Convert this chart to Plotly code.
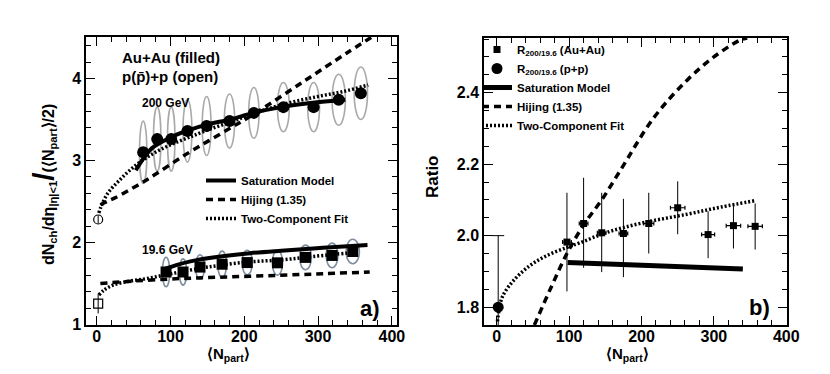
import plotly.graph_objects as go

# ---------------- Panel a) data ----------------
au200_x = [63, 82, 101, 123, 149, 180, 213, 253, 294, 328, 358]
au200_y = [3.10, 3.26, 3.26, 3.36, 3.42, 3.48, 3.58, 3.65, 3.65, 3.74, 3.82]
au200_ex = [5, 5, 5, 6, 6, 7, 7, 8, 8, 9, 9]
au200_ey = [0.38, 0.39, 0.39, 0.38, 0.36, 0.33, 0.31, 0.30, 0.30, 0.31, 0.32]

au19_x = [94, 117, 140, 170, 204, 245, 283, 319, 347]
au19_y = [1.64, 1.64, 1.70, 1.735, 1.755, 1.752, 1.818, 1.842, 1.89]
au19_ex = [5, 5, 6, 6, 7, 7, 8, 8, 9]
au19_ey = [0.18, 0.16, 0.15, 0.16, 0.15, 0.15, 0.15, 0.15, 0.15]

pp200_x = [2]
pp200_y = [2.28]
pp200_err = [0.05]
pp19_x = [2]
pp19_y = [1.255]
pp19_err = [0.12]

sat200_x = [53, 63, 75, 100, 122, 150, 181, 212, 250, 290, 337]
sat200_y = [2.88, 3.02, 3.15, 3.28, 3.36, 3.44, 3.50, 3.58, 3.65, 3.70, 3.74]
hij200_x = [5, 14, 24, 67, 122, 167, 212, 280, 339, 372]
hij200_y = [2.46, 2.50, 2.54, 2.76, 3.08, 3.32, 3.56, 3.96, 4.31, 4.50]
two200_x = [3, 6, 15, 31, 50, 72, 95, 122, 150, 185, 222, 260, 300, 334, 368]
two200_y = [2.36, 2.44, 2.60, 2.76, 2.92, 3.06, 3.17, 3.27, 3.37, 3.48, 3.60, 3.70, 3.78, 3.84, 3.92]

sat19_x = [93, 110, 127, 160, 208, 250, 298, 340, 367]
sat19_y = [1.68, 1.73, 1.77, 1.82, 1.87, 1.90, 1.93, 1.955, 1.97]
hij19_x = [5, 50, 113, 180, 249, 310, 370]
hij19_y = [1.50, 1.53, 1.56, 1.58, 1.60, 1.62, 1.64]
two19_x = [3, 10, 22, 45, 68, 90, 113, 150, 203, 253, 294, 339, 352]
two19_y = [1.36, 1.42, 1.48, 1.53, 1.56, 1.60, 1.64, 1.70, 1.76, 1.79, 1.83, 1.87, 1.88]

# ---------------- Panel b) data ----------------
ratio_x = [97, 120, 145, 175, 210, 250, 292, 327, 357]
ratio_y = [1.982, 2.034, 2.008, 2.006, 2.034, 2.078, 2.003, 2.028, 2.026]
ratio_top = [2.120, 2.162, 2.120, 2.103, 2.120, 2.152, 2.068, 2.090, 2.090]
ratio_bot = [1.844, 1.910, 1.898, 1.884, 1.950, 2.004, 1.937, 1.964, 1.961]
ratio_ex = [6, 6, 6, 6, 7, 10, 9, 10, 10]

ppr_x = [2]
ppr_y = [1.80]
ppr_err = [0.20]

satb_x = [98, 340]
satb_y = [1.925, 1.907]
hijb_x = [52, 75, 97, 120, 145, 170, 217, 263, 300, 334, 346]
hijb_y = [1.75, 1.855, 1.95, 2.03, 2.10, 2.18, 2.33, 2.435, 2.50, 2.545, 2.553]
twob_x = [1, 3, 8, 23, 45, 69, 97, 115, 152, 200, 263, 310, 357]
twob_y = [1.76, 1.79, 1.83, 1.874, 1.915, 1.944, 1.967, 1.98, 2.009, 2.035, 2.06, 2.08, 2.098]

FONT = "Liberation Sans, Arial, Helvetica, sans-serif"
# page body has an 8px margin: the figure is sized so the page fits the 830x374 window
OFF = 8
W, H = 830 - 2 * OFF, 374 - 2 * OFF


def fx(px):
    return (px - OFF) / W


def fy(py):
    return 1 - (py - OFF) / H


fig = go.Figure()

LW = 3.5
DASH = "7px,5px"
DOT = "2px,2px"

# panel a lines
fig.add_trace(go.Scatter(x=sat200_x, y=sat200_y, mode="lines", line=dict(color="black", width=4, shape="spline"),
                         name="Saturation Model", legend="legend", xaxis="x", yaxis="y"))
fig.add_trace(go.Scatter(x=hij200_x, y=hij200_y, mode="lines", line=dict(color="black", width=LW, dash=DASH, shape="spline"),
                         name="Hijing (1.35)", legend="legend", xaxis="x", yaxis="y"))
fig.add_trace(go.Scatter(x=two200_x, y=two200_y, mode="lines", line=dict(color="black", width=LW, dash=DOT, shape="spline"),
                         name="Two-Component Fit", legend="legend", xaxis="x", yaxis="y"))
fig.add_trace(go.Scatter(x=sat19_x, y=sat19_y, mode="lines", line=dict(color="black", width=4, shape="spline"),
                         showlegend=False, xaxis="x", yaxis="y"))
fig.add_trace(go.Scatter(x=hij19_x, y=hij19_y, mode="lines", line=dict(color="black", width=LW, dash=DASH, shape="spline"),
                         showlegend=False, xaxis="x", yaxis="y"))
fig.add_trace(go.Scatter(x=two19_x, y=two19_y, mode="lines", line=dict(color="black", width=LW, dash=DOT, shape="spline"),
                         showlegend=False, xaxis="x", yaxis="y"))

# panel a markers
fig.add_trace(go.Scatter(x=au200_x, y=au200_y, mode="markers", marker=dict(symbol="circle", size=12, color="black"),
                         showlegend=False, xaxis="x", yaxis="y"))
fig.add_trace(go.Scatter(x=au19_x, y=au19_y, mode="markers", marker=dict(symbol="square", size=11, color="black"),
                         showlegend=False, xaxis="x", yaxis="y"))
fig.add_trace(go.Scatter(x=pp200_x, y=pp200_y, mode="markers",
                         marker=dict(symbol="circle-open", size=9, color="black", line=dict(width=1.2)),
                         error_y=dict(type="data", array=pp200_err, color="black", thickness=1, width=0),
                         showlegend=False, xaxis="x", yaxis="y"))
fig.add_trace(go.Scatter(x=pp19_x, y=pp19_y, mode="markers",
                         marker=dict(symbol="square-open", size=9, color="black", line=dict(width=1.2)),
                         error_y=dict(type="data", array=pp19_err, color="black", thickness=1, width=0),
                         showlegend=False, xaxis="x", yaxis="y"))

# panel b
fig.add_trace(go.Scatter(x=ratio_x, y=ratio_y, mode="markers", marker=dict(symbol="square", size=7, color="black"),
                         error_y=dict(type="data", symmetric=False,
                                      array=[t - v for t, v in zip(ratio_top, ratio_y)],
                                      arrayminus=[v - b for b, v in zip(ratio_bot, ratio_y)],
                                      color="black", thickness=1, width=0),
                         error_x=dict(type="data", array=ratio_ex, color="black", thickness=1.2, width=2),
                         name="R<sub>200/19.6</sub> (Au+Au)", legend="legend2", xaxis="x2", yaxis="y2"))
fig.add_trace(go.Scatter(x=ppr_x, y=ppr_y, mode="markers", marker=dict(symbol="circle", size=11, color="black"),
                         error_y=dict(type="data", array=ppr_err, color="black", thickness=1, width=6),
                         name="R<sub>200/19.6</sub> (p+p)", legend="legend2", xaxis="x2", yaxis="y2"))
fig.add_trace(go.Scatter(x=satb_x, y=satb_y, mode="lines", line=dict(color="black", width=5),
                         name="Saturation Model", legend="legend2", xaxis="x2", yaxis="y2"))
fig.add_trace(go.Scatter(x=hijb_x, y=hijb_y, mode="lines", line=dict(color="black", width=LW, dash=DASH, shape="spline"),
                         name="Hijing (1.35)", legend="legend2", xaxis="x2", yaxis="y2"))
fig.add_trace(go.Scatter(x=twob_x, y=twob_y, mode="lines", line=dict(color="black", width=LW, dash=DOT, shape="spline"),
                         name="Two-Component Fit", legend="legend2", xaxis="x2", yaxis="y2"))

# ellipses (systematic error contours) as data-space shapes
shapes = []
for x, y, ex, ey in zip(au200_x, au200_y, au200_ex, au200_ey):
    shapes.append(dict(type="circle", xref="x", yref="y", x0=x - ex, x1=x + ex, y0=y - ey, y1=y + ey,
                       line=dict(color="#a9a9a9", width=1.6), layer="below"))
for x, y, ex, ey in zip(au19_x, au19_y, au19_ex, au19_ey):
    shapes.append(dict(type="circle", xref="x", yref="y", x0=x - ex, x1=x + ex, y0=y - ey, y1=y + ey,
                       line=dict(color="#7f8ea0", width=1.6), layer="below"))

tickfont = dict(family=FONT, size=16, color="black", weight="bold")
axis_common = dict(showline=True, linecolor="black", linewidth=1.5, mirror="ticks", ticks="inside",
                   ticklen=9, tickwidth=1.2, tickcolor="black", showgrid=False, zeroline=False,
                   tickfont=tickfont, automargin=False)
minor_common = dict(ticklen=5, ticks="inside", tickcolor="black", tickwidth=1, tick0=0)

fig.update_layout(
    template="none",
    width=W, height=H,
    margin=dict(l=0, r=0, t=0, b=0, pad=0, autoexpand=False),
    paper_bgcolor="white", plot_bgcolor="white",
    font=dict(family=FONT, color="black"),
    shapes=shapes,
    xaxis=dict(domain=[fx(86), fx(397)], range=[-14.5, 407], dtick=100, tick0=0, ticklabelstandoff=-4,
               minor=dict(dtick=20, **minor_common), anchor="y", **axis_common),
    yaxis=dict(domain=[fy(325), fy(37)], range=[0.994, 4.505], dtick=1, tick0=0,
               minor=dict(dtick=0.2, **minor_common), anchor="x", **axis_common),
    xaxis2=dict(domain=[fx(484), fx(787)], range=[-17.6, 401], dtick=100, tick0=0, ticklabelstandoff=-4,
                minor=dict(dtick=20, **minor_common), anchor="y2", **axis_common),
    yaxis2=dict(domain=[fy(325), fy(38)], range=[1.75, 2.553], dtick=0.2, tick0=0, tickformat=".1f",
                minor=dict(dtick=0.05, **minor_common), anchor="x2", **axis_common),
    legend=dict(x=fx(201), y=fy(166), xanchor="left", yanchor="top", bgcolor="rgba(0,0,0,0)",
                font=dict(family=FONT, size=11.5, color="black", weight="bold"), itemwidth=30, tracegroupgap=0),
    legend2=dict(x=fx(477), y=fy(35), xanchor="left", yanchor="top", bgcolor="rgba(0,0,0,0)",
                 font=dict(family=FONT, size=11.5, color="black", weight="bold"), itemwidth=30, tracegroupgap=0),
)

bold = dict(family=FONT, color="black", weight="bold")
ann = [
    dict(text="Au+Au (filled)", x=fx(120), y=fy(57), font=dict(size=15, **bold), xanchor="left"),
    dict(text="p(p\u0304)+p (open)", x=fx(120), y=fy(77), font=dict(size=15, **bold), xanchor="left"),
    dict(text="200 GeV", x=fx(140), y=fy(103), font=dict(size=12, **bold), xanchor="left"),
    dict(text="19.6 GeV", x=fx(140), y=fy(250), font=dict(size=12, **bold), xanchor="left"),
    dict(text="a)", x=fx(382), y=fy(308), font=dict(size=22, **bold), xanchor="right"),
    dict(text="b)", x=fx(772), y=fy(307), font=dict(size=22, **bold), xanchor="right"),
    dict(text="\u27e8N<sub>part</sub>\u27e9", x=fx(228), y=fy(365), font=dict(size=15, **bold),
         xanchor="center", yanchor="bottom", borderpad=0),
    dict(text="\u27e8N<sub>part</sub>\u27e9", x=fx(627), y=fy(365), font=dict(size=15, **bold),
         xanchor="center", yanchor="bottom", borderpad=0),
    dict(text="dN<sub>ch</sub>/d\u03b7<sub>|\u03b7|&lt;1</sub><span style='font-size:30px'>/</span>(\u27e8N<sub>part</sub>\u27e9/2)",
         x=fx(44), y=fy(185), textangle=-90, font=dict(size=16, **bold), xanchor="center", yanchor="middle"),
    dict(text="Ratio", x=fx(432), y=fy(177), textangle=-90, font=dict(size=17, **bold), xanchor="center", yanchor="middle"),
]
for a in ann:
    a.setdefault("yanchor", "middle")
    a.update(xref="paper", yref="paper", showarrow=False)
fig.update_layout(annotations=ann)

fig.write_html("out.html")
